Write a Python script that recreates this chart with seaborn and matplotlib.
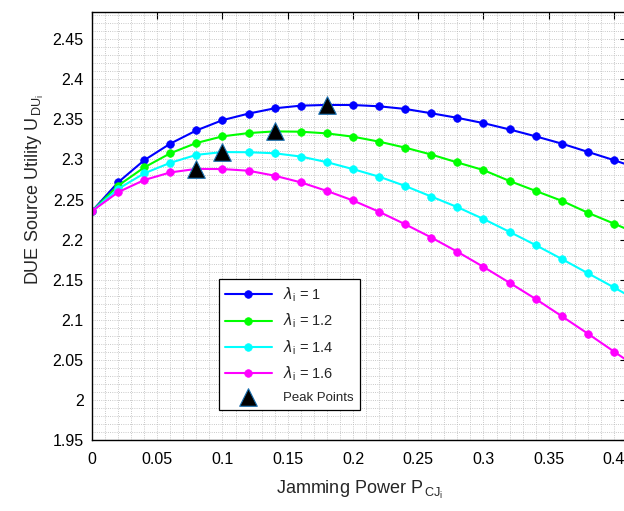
import numpy as np
import pandas as pd
import matplotlib
matplotlib.use('Agg')
import matplotlib.pyplot as plt
from matplotlib.ticker import MultipleLocator
import seaborn as sns

# jamming power grid (0 .. 0.42, step 0.02)
power = [0.0, 0.02, 0.04, 0.06, 0.08, 0.10, 0.12, 0.14, 0.16, 0.18, 0.20,
         0.22, 0.24, 0.26, 0.28, 0.30, 0.32, 0.34, 0.36, 0.38, 0.40, 0.42]

util_l10 = [2.2355, 2.2714, 2.2990, 2.3197, 2.3362, 2.3490, 2.3572, 2.3638, 2.3671, 2.3680, 2.3679,
            2.3663, 2.3630, 2.3576, 2.3519, 2.3453, 2.3374, 2.3288, 2.3197, 2.3094, 2.2991, 2.2880]
util_l12 = [2.2355, 2.2673, 2.2900, 2.3077, 2.3205, 2.3288, 2.3329, 2.3350, 2.3346, 2.3325, 2.3284,
            2.3222, 2.3147, 2.3061, 2.2962, 2.2867, 2.2731, 2.2607, 2.2484, 2.2335, 2.2199, 2.2060]
util_l14 = [2.2355, 2.2632, 2.2826, 2.2958, 2.3057, 2.3092, 2.3090, 2.3077, 2.3036, 2.2966, 2.2879,
            2.2785, 2.2669, 2.2537, 2.2405, 2.2257, 2.2096, 2.1931, 2.1758, 2.1580, 2.1403, 2.1220]
util_l16 = [2.2355, 2.2591, 2.2743, 2.2838, 2.2882, 2.2880, 2.2859, 2.2797, 2.2714, 2.2607, 2.2488,
            2.2347, 2.2191, 2.2026, 2.1848, 2.1659, 2.1461, 2.1259, 2.1044, 2.0826, 2.0603, 2.0380]

labels = [r'$\mathit{\lambda}_{i}$ = 1', r'$\mathit{\lambda}_{i}$ = 1.2',
          r'$\mathit{\lambda}_{i}$ = 1.4', r'$\mathit{\lambda}_{i}$ = 1.6']
colors = ['#0000ff', '#00ff00', '#00ffff', '#ff00ff']

peak_x = [0.18, 0.14, 0.10, 0.08]
peak_y = [2.3680, 2.3350, 2.3092, 2.2882]

sns.set_style('white')
plt.rcParams['font.family'] = ['Liberation Sans', 'DejaVu Sans']
plt.rcParams['mathtext.default'] = 'regular'

fig = plt.figure(figsize=(6.24, 5.11), dpi=100)
# axes run past the right edge of the canvas, as in the cropped reference
ax = fig.add_axes([0.1474, 0.139, 0.8575, 0.8376])

series = [util_l10, util_l12, util_l14, util_l16]
for vals, lab, col in zip(series, labels, colors):
    sns.lineplot(x=power, y=vals, ax=ax, color=col, linewidth=1.5, marker='o',
                 markersize=5.5, markeredgecolor=col, markeredgewidth=0.5, label=lab)

sns.scatterplot(x=peak_x, y=peak_y, ax=ax, marker='^', s=160, color='black',
                edgecolor='#1a6fb0', linewidth=0.8, label='Peak Points', zorder=5)

ax.set_xlim(0, 0.41)
ax.set_ylim(1.95, 2.484)
ax.xaxis.set_minor_locator(MultipleLocator(0.01))
ax.yaxis.set_minor_locator(MultipleLocator(0.01))
ax.set_xticks(np.arange(0, 0.41, 0.05))
ax.set_xticklabels(['0', '0.05', '0.1', '0.15', '0.2', '0.25', '0.3', '0.35', '0.4'])
ax.set_yticks(np.arange(1.95, 2.46, 0.05))
ax.set_yticklabels(['1.95', '2', '2.05', '2.1', '2.15', '2.2', '2.25', '2.3', '2.35', '2.4', '2.45'])

ax.grid(True, which='both', linestyle=':', linewidth=0.6, color='#b8b8b8')
ax.tick_params(which='major', direction='in', length=5, width=0.8, top=True, right=True,
               labelsize=11.5, colors='black')
ax.tick_params(axis='x', pad=9)
ax.tick_params(axis='y', pad=6)
ax.tick_params(which='minor', length=0)
for sp in ax.spines.values():
    sp.set_color('black')
    sp.set_linewidth(1.0)

ax.set_xlabel(r'Jamming Power P$_{\,CJ_{i}}$', fontsize=13, labelpad=8)
ax.set_ylabel(r'DUE Source Utility U$_{\,DU_{i}}$', fontsize=13, labelpad=5)
ax.yaxis.label.set_y(0.586)

leg = ax.legend(loc='lower left', bbox_to_anchor=(0.238, 0.07), borderaxespad=0,
                frameon=True, fancybox=False, edgecolor='black', fontsize=10.5,
                handlelength=3.2, labelspacing=0.55, borderpad=0.4)
leg.get_frame().set_linewidth(0.9)
leg.get_frame().set_alpha(1)
leg.get_texts()[-1].set_fontsize(9.5)

fig.savefig('out.png', dpi=100)
